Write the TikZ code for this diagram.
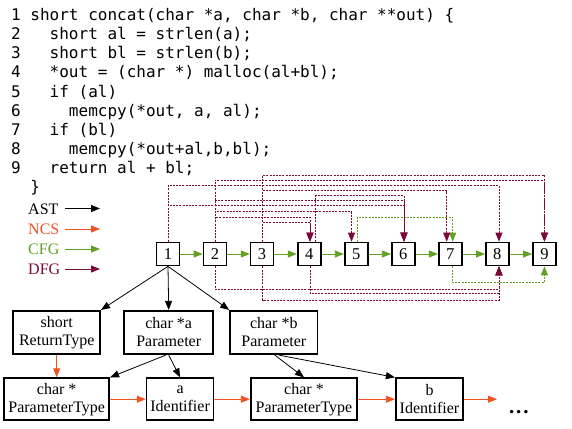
\documentclass[tikz,border=0pt]{standalone}
\usepackage{fontspec}
\setmainfont{Liberation Serif}
\setmonofont{DejaVu Sans Mono}
\usetikzlibrary{arrows.meta}
\definecolor{ncsc}{RGB}{240,82,34}
\definecolor{cfgc}{RGB}{98,160,36}
\definecolor{dfgc}{RGB}{122,8,56}
\begin{document}
\begin{tikzpicture}[x=1pt,y=-1pt,
  code/.style={anchor=base west, inner sep=0pt, font=\ttfamily\fontsize{16}{19}\selectfont\frenchspacing},
  num/.style={draw, line width=1.7pt, minimum width=23pt, minimum height=23pt, inner sep=0pt, fill=white, font=\fontsize{16.5}{18}\selectfont},
  box/.style={draw, line width=1.7pt, inner sep=0pt, align=center, font=\fontsize{16}{18}\selectfont},
  leg/.style={anchor=base west, inner sep=0pt, font=\fontsize{16}{18}\selectfont},
  tip/.style={-{Triangle[length=9pt,width=7pt]}},
  ast/.style={tip, line width=0.8pt, black},
  ncs/.style={tip, line width=0.8pt, ncsc},
  cfg/.style={tip, line width=0.8pt, cfgc},
  cfgd/.style={cfg, dash pattern=on 2pt off 1.2pt},
  dfg/.style={tip, line width=0.8pt, dfgc, dash pattern=on 2pt off 1.2pt}
]
\useasboundingbox (0,0) rectangle (572,428);

% code
\node[code] (c1) at (11,20.7) {1~short concat(char *a, char *b, char **out) \{};
\node[code] (c2) at (11,39.8) {2~~~short al = strlen(a);};
\node[code] (c3) at (11,58.8) {3~~~short bl = strlen(b);};
\node[code] (c4) at (11,77.9) {4~~~*out = (char *) malloc(al+bl);};
\node[code] (c5) at (11,97.0) {5~~~if (al)};
\node[code] (c6) at (11,116.0) {6~~~~~memcpy(*out, a, al);};
\node[code] (c7) at (11,135.1) {7~~~if (bl)};
\node[code] (c8) at (11,154.2) {8~~~~~memcpy(*out+al,b,bl);};
\node[code] (c9) at (11,173.3) {9~~~return al + bl;};
\node[code] (c10) at (11,192.3) {~~\}};

% legend
\node[leg] (last) at (28,214) {AST};
\node[leg, text=ncsc] (lncs) at (28,234.5) {NCS};
\node[leg, text=cfgc] (lcfg) at (28,254.5) {CFG};
\node[leg, text=dfgc] (ldfg) at (28,274.5) {DFG};
\coordinate (a1) at (65,208.5); \coordinate (a2) at (100,208.5);
\coordinate (b1) at (65,229);   \coordinate (b2) at (100,229);
\coordinate (g1) at (65,249);   \coordinate (g2) at (100,249);
\coordinate (d1) at (65,269);   \coordinate (d2) at (100,269);
\draw[ast] (a1) -- (a2);
\draw[ncs] (b1) -- (b2);
\draw[cfg] (g1) -- (g2);
\draw[dfg, dash pattern=] (d1) -- (d2);

% statement nodes
\foreach \i/\x in {1/168,2/215.05,3/262.1,4/309.15,5/356.2,6/403.25,7/450.3,8/497.35,9/544.4}
  \node[num] (n\i) at (\x,254) {\i};

% CFG sequential
\foreach \i/\j in {1/2,2/3,3/4,4/5,5/6,6/7,7/8,8/9}
  \draw[cfg] (n\i.east) -- (n\j.west);

% CFG branches
\draw[cfgd] ([xshift=1.5pt]n5.north) -- ++(0,-24.4) -| ([xshift=2.4pt]n7.north);
\draw[cfgd] ([xshift=1.7pt]n7.south) -- ++(0,16) -| (n9.south);

% DFG above
\draw[dfg] ([xshift=0.6pt]n3.north) -- ++(0,-66.7) -| (n9.north);
\draw[dfg] (n2.north) -- ++(0,-61.7) -| (n9.north);
\draw[dfg] (n1.north) -- ++(0,-56) -| ([xshift=1.6pt]n8.north);
\draw[dfg] ([xshift=0.6pt]n3.north) -- ++(0,-51) -| ([xshift=-3.6pt]n7.north);
\draw[dfg] ([xshift=6.5pt]n4.north) -- ++(0,-46) -| ([xshift=0.7pt]n6.north);
\draw[dfg] (n2.north) -- ++(0,-41.7) -| ([xshift=0.7pt]n6.north);
\draw[dfg] (n1.north) -- ++(0,-36.7) -| ([xshift=0.7pt]n6.north);
\draw[dfg] (n2.north) -- ++(0,-30) -| ([xshift=-4.7pt]n5.north);
\draw[dfg] (n2.north) -- ++(0,-24.4) -| ([xshift=0.8pt]n4.north);
\draw[dfg] ([xshift=0.6pt]n3.north) -- ++(0,-19) -| ([xshift=0.8pt]n4.north);

% DFG below
\draw[dfg] (n2.south) -- ++(0,22.7) -| ([xshift=1.6pt]n8.south);
\draw[dfg] ([xshift=0.8pt]n4.south) -- ++(0,27) -| ([xshift=1.6pt]n8.south);
\draw[dfg] ([xshift=0.6pt]n3.south) -- ++(0,33.7) -| ([xshift=1.6pt]n8.south);

% AST boxes
\node[box, minimum width=87pt, minimum height=43.5pt] (rt) at (56.7,332.5) {short\\ReturnType};
\node[box, minimum width=89pt, minimum height=43.5pt] (pa) at (168.7,332.5) {char *a\\Parameter};
\node[box, minimum width=87.5pt, minimum height=43.5pt] (pb) at (273.8,332.5) {char *b\\Parameter};
\node[box, minimum width=105pt, minimum height=42pt] (pt1) at (56.7,399.2) {char *\\ParameterType};
\node[box, minimum width=67pt, minimum height=42pt] (id1) at (180.1,399.2) {a\\Identifier};
\node[box, minimum width=106.5pt, minimum height=42pt] (pt2) at (304,399.2) {char *\\ParameterType};
\node[box, minimum width=67.5pt, minimum height=42pt] (id2) at (429.5,399.2) {b\\Identifier};
\node[anchor=base west, inner sep=0pt, font=\bfseries\fontsize{21}{22}\selectfont] (dots) at (509,413) {.\kern1.8pt.\kern1.8pt.};
\coordinate (ncsend) at (497,399.2);

% AST edges
\draw[ast] (n1.south) -- (rt.north east);
\draw[ast] (n1.south) -- (pa.north);
\draw[ast] (n1.south) -- (pb.north west);
\draw[ast] ([xshift=-3pt]pa.south) -- (pt1.north east);
\draw[ast] (pa.south) -- (id1.north);
\draw[ast] ([xshift=1pt]pb.south) -- (pt2.north);
\draw[ast] ([xshift=5pt]pb.south) -- (id2.north west);

% NCS edges
\draw[ncs] (rt.south) -- (pt1.north);
\draw[ncs] (pt1.east) -- (id1.west);
\draw[ncs] (id1.east) -- (pt2.west);
\draw[ncs] (pt2.east) -- (id2.west);
\draw[ncs] (id2.east) -- (ncsend);
\end{tikzpicture}
\end{document}
